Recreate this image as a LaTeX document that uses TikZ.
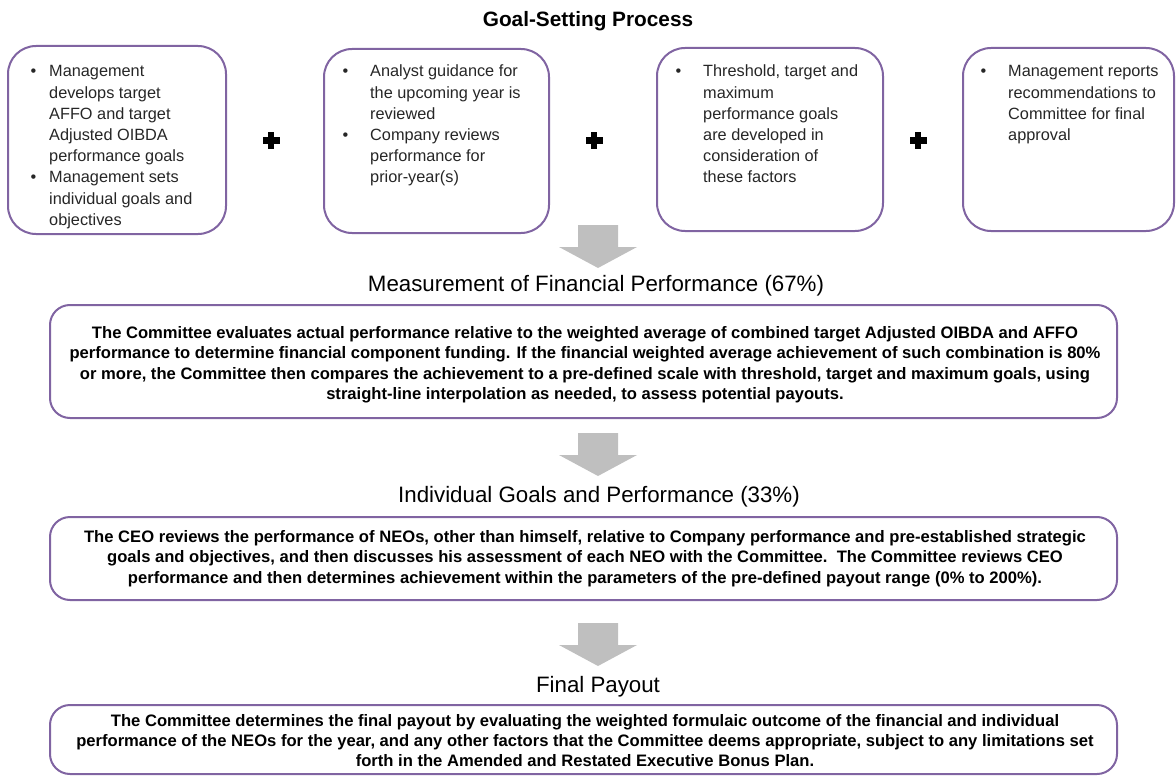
\documentclass[tikz,border=0pt]{standalone}
\usepackage{fontspec}
\setmainfont{Liberation Sans}
\definecolor{boxpurple}{RGB}{128,100,162}
\definecolor{arrowgray}{RGB}{191,191,191}
\definecolor{txtgray}{RGB}{38,38,38}
\tikzset{
  topbox/.style={draw=boxpurple, line width=2pt, rounded corners=28pt, rectangle, inner sep=0pt},
  bigbox/.style={draw=boxpurple, line width=2pt, rounded corners=20pt, rectangle, inner sep=0pt},
  toptext/.style={anchor=base west, inner sep=0pt, font=\fontsize{16.3}{21.2}\selectfont, text=txtgray},
  bodytext/.style={anchor=base, inner sep=0pt, font=\bfseries\fontsize{16.6}{20.4}\selectfont},
  heading/.style={anchor=base, inner sep=0pt, font=\fontsize{22.3}{26}\selectfont},
  titletext/.style={anchor=base, inner sep=0pt, font=\bfseries\fontsize{20.8}{24}\selectfont},
  blockarrow/.style={fill=arrowgray, draw=none},
  plussign/.style={fill=black, draw=none}
}
\begin{document}
\begin{tikzpicture}[x=1pt,y=-1pt]
\useasboundingbox (0,0) rectangle (1176,776);

% title
\node[titletext] (title) at (588,27) {Goal-Setting Process};

% top boxes
\node[topbox, minimum width=218pt, minimum height=188pt] (b1) at (117,140) {};
\node[topbox, minimum width=225pt, minimum height=184pt] (b2) at (436.5,141) {};
\node[topbox, minimum width=226pt, minimum height=183pt] (b3) at (770,139.5) {};
\node[topbox, minimum width=211pt, minimum height=183pt] (b4) at (1068.5,139.5) {};

\node[toptext] (t1) at (30.5,77) {\begin{tabular}[t]{@{}p{18.5pt}@{}l@{}}
\textbullet & Management\\
 & develops target\\
 & AFFO and target\\
 & Adjusted OIBDA\\
 & performance goals\\
\textbullet & Management sets\\
 & individual goals and\\
 & objectives
\end{tabular}};

\node[toptext] (t2) at (342.5,77) {\begin{tabular}[t]{@{}p{27.5pt}@{}l@{}}
\textbullet & Analyst guidance for\\
 & the upcoming year is\\
 & reviewed\\
\textbullet & Company reviews\\
 & performance for\\
 & prior-year(s)
\end{tabular}};

\node[toptext] (t3) at (675.5,77) {\begin{tabular}[t]{@{}p{27.5pt}@{}l@{}}
\textbullet & Threshold, target and\\
 & maximum\\
 & performance goals\\
 & are developed in\\
 & consideration of\\
 & these factors
\end{tabular}};

\node[toptext] (t4) at (980.5,77) {\begin{tabular}[t]{@{}p{27.5pt}@{}l@{}}
\textbullet & Management reports\\
 & recommendations to\\
 & Committee for final\\
 & approval
\end{tabular}};

% plus signs
\fill[plussign] (262.5,137) rectangle (279.5,143.5);
\fill[plussign] (267.8,131.5) rectangle (274.3,148.5);
\fill[plussign] (585.5,137) rectangle (602.5,143.5);
\fill[plussign] (590.8,131.5) rectangle (597.3,148.5);
\fill[plussign] (909.5,137) rectangle (926.5,143.5);
\fill[plussign] (914.8,131.5) rectangle (921.3,148.5);

% arrow 1
\fill[blockarrow] (598,225) ++(-20,0) -- ++(40,0) -- ++(0,22) -- ++(19,0) -- ++(-39,21) -- ++(-39,-21) -- ++(19,0) -- cycle;

% measurement
\node[heading] (h1) at (596,291) {Measurement of Financial Performance (67\%)};
\node[bigbox, minimum width=1067pt, minimum height=113pt] (B1) at (583.5,361.5) {};
\node[bodytext] (bt1) at (585,338.5) {\begin{tabular}[t]{@{}c@{}}
The Committee evaluates actual performance relative to the weighted average of combined target Adjusted OIBDA and AFFO\\
performance to determine financial component funding. If the financial weighted average achievement of such combination is 80\%\\
or more, the Committee then compares the achievement to a pre-defined scale with threshold, target and maximum goals, using\\
straight-line interpolation as needed, to assess potential payouts.
\end{tabular}};

% arrow 2
\fill[blockarrow] (598,433) ++(-20,0) -- ++(40,0) -- ++(0,22) -- ++(19,0) -- ++(-39,21) -- ++(-39,-21) -- ++(19,0) -- cycle;

% individual
\node[heading] (h2) at (599,502) {Individual Goals and Performance (33\%)};
\node[bigbox, minimum width=1067pt, minimum height=83pt] (B2) at (583.5,558.5) {};
\node[bodytext] (bt2) at (585,542.5) {\begin{tabular}[t]{@{}c@{}}
The CEO reviews the performance of NEOs, other than himself, relative to Company performance and pre-established strategic\\
goals and objectives, and then discusses his assessment of each NEO with the Committee.\ \ The Committee reviews CEO\\
performance and then determines achievement within the parameters of the pre-defined payout range (0\% to 200\%).
\end{tabular}};

% arrow 3
\fill[blockarrow] (598,623) ++(-20,0) -- ++(40,0) -- ++(0,22) -- ++(19,0) -- ++(-39,21) -- ++(-39,-21) -- ++(19,0) -- cycle;

% final payout
\node[heading] (h3) at (598,692) {Final Payout};
\node[bigbox, minimum width=1067pt, minimum height=69pt] (B3) at (583.5,739.5) {};
\node[bodytext] (bt3) at (585,726) {\begin{tabular}[t]{@{}c@{}}
The Committee determines the final payout by evaluating the weighted formulaic outcome of the financial and individual\\
performance of the NEOs for the year, and any other factors that the Committee deems appropriate, subject to any limitations set\\
forth in the Amended and Restated Executive Bonus Plan.
\end{tabular}};
\end{tikzpicture}
\end{document}
